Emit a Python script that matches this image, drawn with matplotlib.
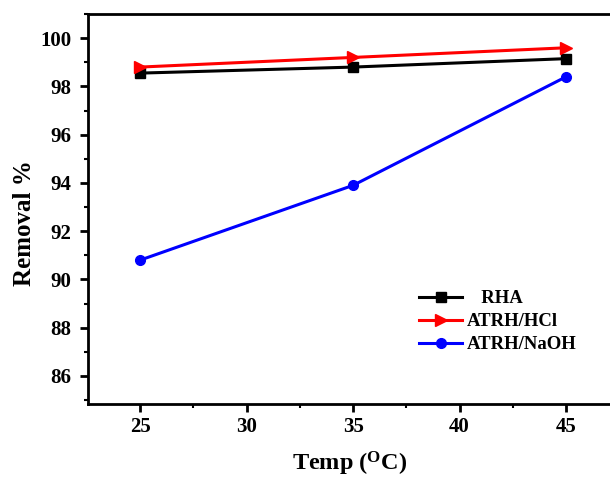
import matplotlib
matplotlib.use("Agg")
import matplotlib.pyplot as plt
from matplotlib.ticker import MultipleLocator

temps = [25, 35, 45]
rha = [98.55, 98.8, 99.15]
atrh_hcl = [98.8, 99.2, 99.6]
atrh_naoh = [90.8, 93.9, 98.4]
labels = ["   RHA", "ATRH/HCl", "ATRH/NaOH"]

plt.rcParams['font.family'] = ['Liberation Serif', 'DejaVu Serif']
plt.rcParams['font.weight'] = 'bold'
plt.rcParams['mathtext.fontset'] = 'custom'
plt.rcParams['mathtext.rm'] = 'Liberation Serif:bold'

fig = plt.figure(figsize=(6.10, 4.79), dpi=100)
ax = fig.add_axes([0.1443, 0.1566, 0.8757, 0.8142])

ax.plot(temps, rha, color='black', lw=2.2, marker='s', ms=7, label=labels[0])
ax.plot(temps, atrh_hcl, color='red', lw=2.2, marker='>', ms=9, label=labels[1])
ax.plot(temps, atrh_naoh, color='blue', lw=2.2, marker='o', ms=7, label=labels[2])

ax.set_xlim(22.56, 47.63)
ax.set_ylim(84.84, 101.0)
ax.xaxis.set_major_locator(MultipleLocator(5))
ax.xaxis.set_minor_locator(MultipleLocator(2.5))
ax.yaxis.set_major_locator(MultipleLocator(2))
ax.yaxis.set_minor_locator(MultipleLocator(1))

for s in ax.spines.values():
    s.set_linewidth(2)
ax.tick_params(which='major', direction='out', length=6, width=2, labelsize=15)
ax.tick_params(axis='y', which='major', pad=6)
ax.tick_params(which='minor', direction='out', length=3, width=1.5)
for lab in ax.get_xticklabels() + ax.get_yticklabels():
    lab.set_fontweight('bold')

ax.set_xlabel("Temp ($\\mathregular{^{O}}$C)", fontsize=17.5, fontweight='bold')
ax.set_ylabel("Removal %", fontsize=18, fontweight='bold')
ax.xaxis.set_label_coords((350 - 88) / 534, -(450 - 404) / 390)
ax.yaxis.set_label_coords(-(88 - 36) / 534, 1 - (223 - 14) / 390)

leg = ax.legend(loc='upper left', bbox_to_anchor=(419/610, 1 - 290/479), bbox_transform=fig.transFigure,
                frameon=False, prop={'family': 'Liberation Serif', 'weight': 'bold', 'size': 13.5},
                handlelength=2.3, handletextpad=0.25, labelspacing=0.32, borderaxespad=0, borderpad=0)

fig.savefig("out.png", dpi=100)
